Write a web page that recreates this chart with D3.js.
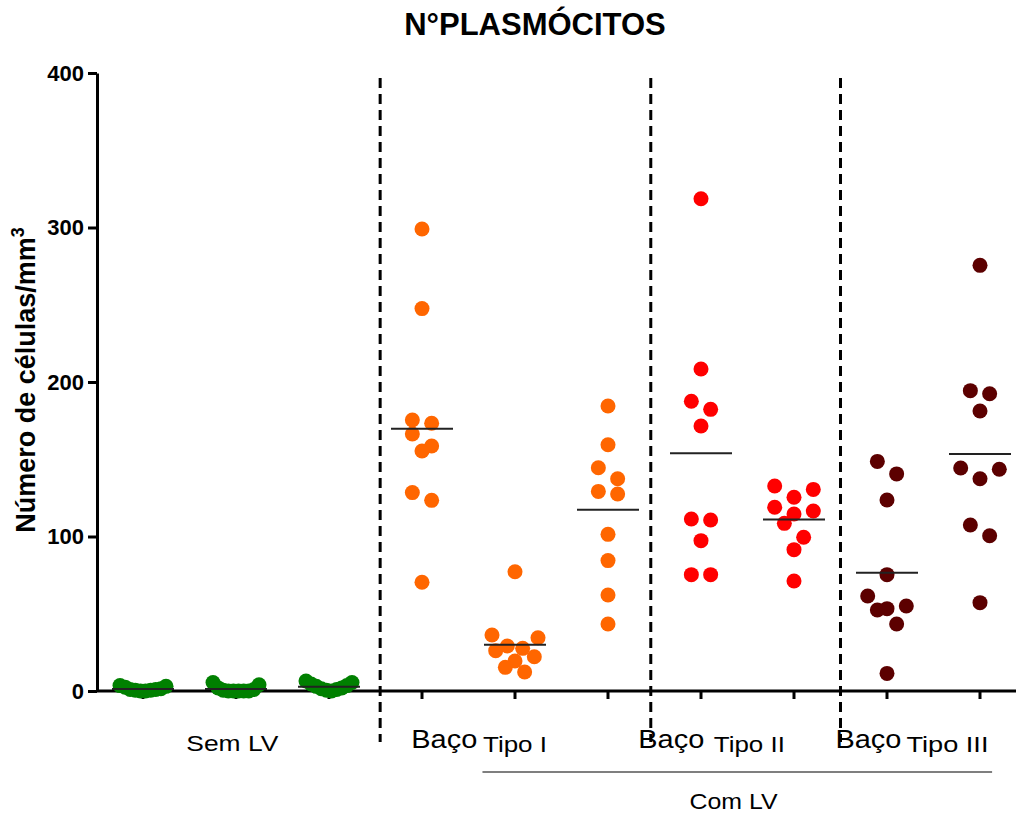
<!DOCTYPE html>
<html>
<head>
<meta charset="utf-8">
<script src="https://cdn.jsdelivr.net/npm/d3@7"></script>
<style>
  body { margin: 0; background: #fff; }
  svg { font-family: "Liberation Sans", Arial, sans-serif; }
</style>
</head>
<body>
<svg id="chart"></svg>
<script>
// columns, left to right
const columns = ["semLV1", "semLV2", "semLV3", "baco1", "tipo1", "tipo1b", "baco2", "tipo2", "baco3", "tipo3"];
// values (células/mm3)
const semLV1 = [3.5, 3, 2.5, 1.5, 1, 1, 0.5, 0.5, 0, 0];
const semLV2 = [5.5, 4, 2, 1, 0.5, 0, 0, 0, 0, 0];
const semLV3 = [6.5, 5.5, 4.5, 3.5, 3, 2, 1.5, 1, 0.5, 0];
const baco1 = [299, 247.5, 175.4, 173.3, 166.3, 158.6, 155.3, 128.4, 123.4, 70.4];
const tipo1 = [77.2, 36.2, 34.5, 29.1, 27.6, 26.1, 22.2, 19.4, 15.3, 12.3];
const tipo1b = [184.5, 159.4, 144.5, 137.4, 129.2, 127.5, 101.4, 84.4, 62.1, 43.4];
const baco2 = [318.6, 208.4, 187.5, 182.3, 171.5, 111.3, 110.7, 97.3, 75.3, 75.3];
const tipo2 = [132.7, 130.5, 125.4, 118.9, 116.5, 114.6, 108.5, 99.5, 91.5, 71.2];
const baco3 = [148.6, 140.5, 123.6, 75.3, 61.5, 55, 53.3, 52.4, 43.4, 11.4];
const tipo3 = [275.5, 194.4, 192.4, 181.2, 144.3, 143.5, 137.4, 107.4, 100.5, 57.2];
const seriesValues = [semLV1, semLV2, semLV3, baco1, tipo1, tipo1b, baco2, tipo2, baco3, tipo3];
const seriesColors = ["#008000", "#008000", "#008000", "#ff6600", "#ff6600", "#ff6600", "#ff0000", "#ff0000", "#5c0000", "#5c0000"];
const yTicks = [0, 100, 200, 300, 400];
// dashed separators, in column units
const dividers = [2.55, 5.46, 7.5];

const W = 1016, H = 816;
const svg = d3.select("#chart").attr("width", W).attr("height", H);

const y = d3.scaleLinear().domain([0, 400]).range([691, 73]);
const x = d3.scalePoint().domain(columns).range([143, 980]);
const step = x.step();
const xAt = i => x(columns[0]) + i * step;

// title
svg.append("text")
    .attr("x", 535).attr("y", 35)
    .attr("text-anchor", "middle")
    .style("font-size", "31px").style("font-weight", "bold")
    .text("N°PLASMÓCITOS");

// y label
const yl = svg.append("text")
    .attr("transform", "translate(35,380) rotate(-90)")
    .attr("text-anchor", "middle")
    .style("font-size", "27px").style("font-weight", "bold");
yl.append("tspan").text("Número de células/mm");
yl.append("tspan").attr("dy", -11).style("font-size", "18px").text("3");

dividers.forEach(i => {
    svg.append("line")
        .attr("x1", xAt(i)).attr("x2", xAt(i))
        .attr("y1", 78).attr("y2", 742)
        .attr("stroke", "#000").attr("stroke-width", 3)
        .attr("stroke-dasharray", "10,6");
});

// axes
const yAxis = svg.append("g")
    .attr("transform", "translate(97,0)")
    .call(d3.axisLeft(y).tickValues(yTicks).tickSize(9).tickPadding(4).tickSizeOuter(0));
yAxis.select(".domain").attr("stroke-width", 3);
yAxis.selectAll(".tick line").attr("stroke-width", 3);
yAxis.selectAll(".tick text")
    .style("font-size", "22px").style("font-weight", "bold")
    .style("font-family", "'Liberation Sans', Arial, sans-serif").attr("fill", "#000");

const xAxisG = svg.append("g").attr("transform", "translate(0,691)");
xAxisG.append("line")
    .attr("x1", 97).attr("x2", W)
    .attr("stroke", "#000").attr("stroke-width", 3);
xAxisG.selectAll(".xt").data(columns).enter().append("line")
    .attr("x1", d => x(d)).attr("x2", d => x(d))
    .attr("y1", 0).attr("y2", 8)
    .attr("stroke", "#000").attr("stroke-width", 3);

// GraphPad-like scatter: points close in value share a row, spread around the column centre
function swarm(vals, cx) {
    const pts = vals.map(v => ({ v, py: y(v) })).sort((a, b) => a.py - b.py);
    const rows = [];
    let cur = null;
    pts.forEach(p => {
        if (!cur || p.py - cur[0].py >= 14) { cur = [p]; rows.push(cur); }
        else cur.push(p);
    });
    rows.forEach(r => {
        const n = r.length;
        const s = n > 1 ? Math.min(19.3, 46 / (n - 1)) : 0;
        const slots = d3.range(n).map(i => (i - (n - 1) / 2) * s);
        slots.sort((a, b) => Math.abs(b) - Math.abs(a) || a - b);
        r.forEach((p, i) => p.px = cx + slots[i]);
    });
    return pts;
}

columns.forEach((c, i) => {
    const pts = swarm(seriesValues[i], x(c));
    svg.append("g").selectAll("circle").data(pts).enter().append("circle")
        .attr("cx", d => d.px).attr("cy", d => d.py)
        .attr("r", 7.5)
        .attr("fill", seriesColors[i]);
});

columns.forEach((c, i) => {
    const m = d3.mean(seriesValues[i]);
    svg.append("line")
        .attr("x1", x(c) - 31).attr("x2", x(c) + 31)
        .attr("y1", y(m)).attr("y2", y(m))
        .attr("stroke", "#222").attr("stroke-width", 2);
});

// category labels
const labels = [
    { t: "Sem LV", at: 0.96, y: 751, size: 22, w: 92 },
    { t: "Baço", at: 3.24, y: 748, size: 26, w: 66 },
    { t: "Tipo I", at: 4.0, y: 752, size: 22, w: 64 },
    { t: "Baço", at: 5.68, y: 748, size: 26, w: 66 },
    { t: "Tipo II", at: 6.52, y: 752, size: 22, w: 71 },
    { t: "Baço", at: 7.8, y: 748, size: 26, w: 66 },
    { t: "Tipo III", at: 8.65, y: 752, size: 22, w: 82 },
    { t: "Com LV", at: 6.35, y: 809, size: 22, w: 88 }
];
labels.forEach(l => {
    svg.append("text")
        .attr("x", xAt(l.at) - l.w / 2).attr("y", l.y)
        .attr("textLength", l.w).attr("lengthAdjust", "spacingAndGlyphs")
        .style("font-size", l.size + "px")
        .text(l.t);
});
svg.append("line")
    .attr("x1", xAt(3.65)).attr("x2", xAt(9.13))
    .attr("y1", 772).attr("y2", 772)
    .attr("stroke", "#555").attr("stroke-width", 1.5);
</script>
</body>
</html>
